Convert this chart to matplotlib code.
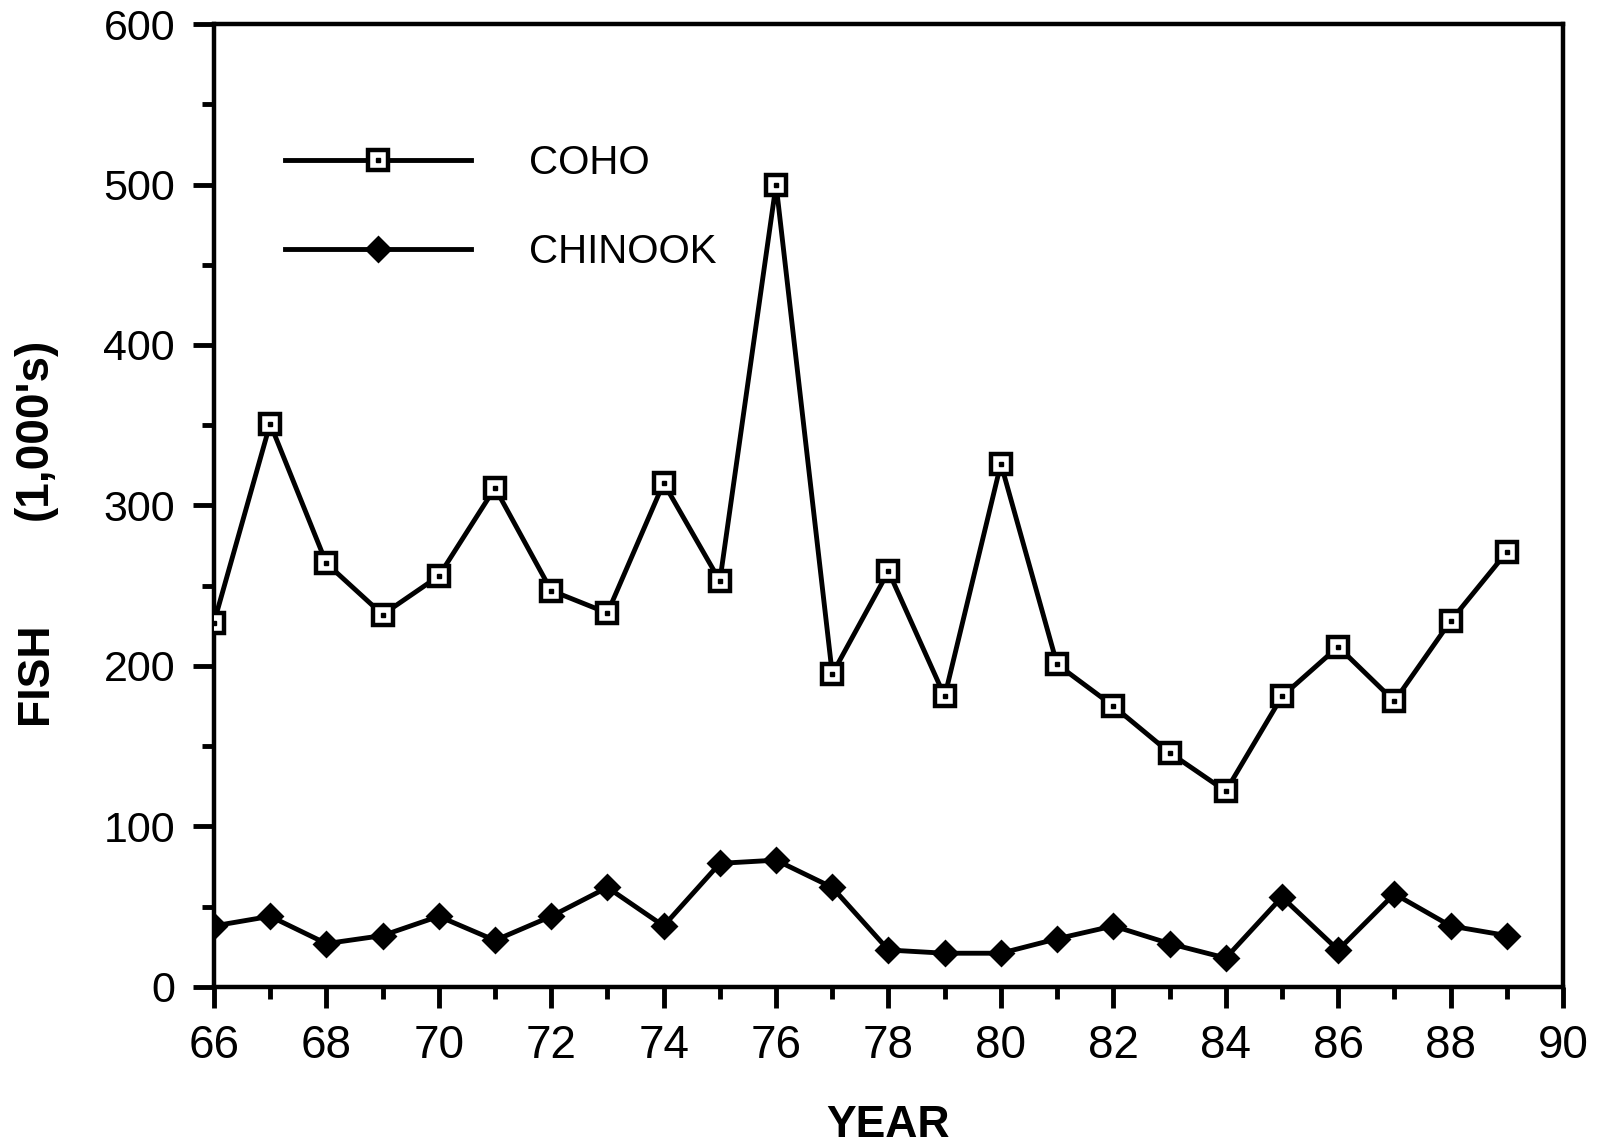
import matplotlib
matplotlib.use('Agg')
import matplotlib.pyplot as plt
import matplotlib.lines as mlines
from matplotlib.ticker import MultipleLocator

plt.rcParams['font.family'] = ['Liberation Sans', 'DejaVu Sans']

years = list(range(66, 90))
coho = [227, 351, 264, 232, 256, 311, 247, 233, 314, 253, 500, 195,
        259, 181, 326, 201, 175, 146, 122, 181, 212, 178, 228, 271]
chinook = [38, 44, 27, 32, 44, 29, 44, 62, 38, 77, 79, 62,
           23, 21, 21, 30, 38, 27, 18, 56, 23, 58, 38, 32]

fig = plt.figure(figsize=(15.99, 11.44), dpi=100)
ax = fig.add_axes([0.1338, 0.1373, 0.9775 - 0.1338, 0.979 - 0.1373])

# coho: hollow square with a dot in the middle
ax.plot(years, coho, color='black', lw=3.5, marker='s', ms=14,
        mfc='white', mec='black', mew=3.2, zorder=3)
ax.plot(years, coho, ls='none', marker='s', ms=3.5, color='black', zorder=4)
ax.plot(years, chinook, color='black', lw=3.5, marker='D', ms=12,
        mfc='black', mec='black', mew=2, zorder=3)

ax.set_xlim(66, 90)
ax.set_ylim(0, 600)
ax.xaxis.set_major_locator(MultipleLocator(2))
ax.xaxis.set_minor_locator(MultipleLocator(1))
ax.yaxis.set_major_locator(MultipleLocator(100))
ax.yaxis.set_minor_locator(MultipleLocator(50))

for s in ax.spines.values():
    s.set_linewidth(3.2)
ax.tick_params(which='major', direction='out', length=15, width=3.5)
ax.tick_params(which='minor', direction='out', length=8.5, width=3.5)
ax.tick_params(axis='y', which='major', labelsize=31, pad=13)
ax.tick_params(axis='x', which='major', labelsize=33, pad=12)

ax.set_xlabel('YEAR', fontsize=32, fontweight='bold', labelpad=26)

# y label: two pieces, spaced as in the original
fig.text(35 / 1599, 1 - 673 / 1144, 'FISH', rotation=90, fontsize=32,
         fontweight='bold', ha='center', va='center')
fig.text(35 / 1599, 1 - 429 / 1144, "(1,000's)", rotation=90, fontsize=33,
         fontweight='bold', ha='center', va='center')

# legend, handles with the symbol on the line
h1 = mlines.Line2D([], [], color='black', lw=3.5, marker='s', ms=14,
                   mfc='white', mec='black', mew=3.2)
h1b = mlines.Line2D([], [], ls='none', marker='s', ms=3.5, color='black')
h2 = mlines.Line2D([], [], color='black', lw=3.5, marker='D', ms=12,
                   mfc='black', mec='black', mew=2)
leg = ax.legend([(h1, h1b), h2], ['COHO', 'CHINOOK'], loc='upper left',
                bbox_to_anchor=(0.053, 0.875), frameon=False, fontsize=29,
                handlelength=4.6, handletextpad=1.45, labelspacing=1.25,
                borderpad=0, borderaxespad=0)

fig.savefig('out.png', dpi=100, facecolor='white')
